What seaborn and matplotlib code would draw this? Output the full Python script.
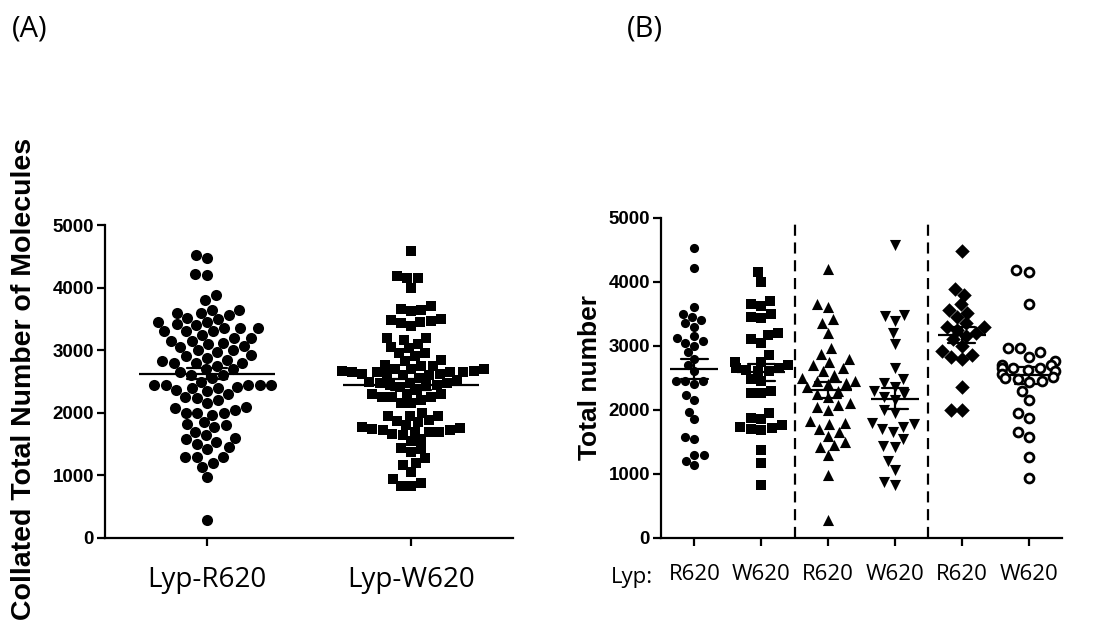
import pandas as pd
import seaborn as sns
import matplotlib.pyplot as plt

# values, one list per column
r620_circles = [4520, 4210, 3600, 3500, 3450, 3400, 3350, 3300, 3150, 3120, 3070,
                3050, 3000, 2900, 2800, 2700, 2600, 2450, 2450, 2450, 2400, 2240,
                2160, 1970, 1850, 1580, 1540, 1300, 1300, 1200, 1140]
w620_squares = [4150, 4000, 3700, 3650, 3620, 3500, 3450, 3430, 3200, 3170, 3100,
                3050, 2850, 2750, 2750, 2700, 2650, 2650, 2620, 2600, 2600, 2480,
                2450, 2300, 2260, 2260, 1950, 1880, 1850, 1760, 1730, 1720, 1700,
                1690, 1380, 1170, 830]
r620_triangles = [4200, 3650, 3600, 3420, 3350, 3200, 2970, 2880, 2800, 2750, 2700,
                  2650, 2600, 2550, 2500, 2450, 2450, 2420, 2400, 2350, 2300, 2250,
                  2200, 2100, 2080, 2050, 2000, 1820, 1800, 1780, 1700, 1650, 1600,
                  1500, 1450, 1420, 1300, 980, 280]
w620_down = [4580, 3480, 3460, 3380, 3200, 3030, 2660, 2480, 2420, 2360, 2300, 2250,
             2200, 2150, 2000, 1950, 1800, 1780, 1740, 1700, 1650, 1550, 1430, 1420,
             1200, 1060, 880, 830]
r620_diamonds = [4480, 3880, 3800, 3650, 3560, 3520, 3450, 3350, 3300, 3300, 3250,
                 3200, 3150, 3100, 3000, 2920, 2850, 2830, 2800, 2360, 2000, 2000]
w620_open = [4180, 4160, 3660, 2960, 2960, 2900, 2830, 2760, 2700, 2700, 2660, 2650,
             2650, 2620, 2600, 2560, 2520, 2500, 2480, 2450, 2440, 2300, 2150, 1950,
             1870, 1660, 1580, 1270, 940]

b_groups = ["R620 a", "W620 a", "R620 b", "W620 b", "R620 c", "W620 c"]
b_labels = ["R620", "W620", "R620", "W620", "R620", "W620"]
a_groups = ["Lyp-R620", "Lyp-W620"]
y_ticks = [0, 1000, 2000, 3000, 4000, 5000]
separators = [1.5, 3.5]

# panel A is the collated data of panel B
a_r620 = r620_circles + r620_triangles + r620_diamonds
a_w620 = w620_squares + w620_down + w620_open

df_a = pd.DataFrame({"group": [a_groups[0]] * len(a_r620) + [a_groups[1]] * len(a_w620),
                     "value": a_r620 + a_w620})
b_values = [r620_circles, w620_squares, r620_triangles, w620_down, r620_diamonds, w620_open]
df_b = pd.concat([pd.DataFrame({"group": g, "value": v}) for g, v in zip(b_groups, b_values)])

sns.set_theme(style="ticks")
plt.rcParams["font.family"] = ["Liberation Sans", "DejaVu Sans"]
plt.rcParams["axes.linewidth"] = 1.6
for key in ["text.color", "axes.labelcolor", "axes.edgecolor", "xtick.color", "ytick.color"]:
    plt.rcParams[key] = "black"

fig = plt.figure(figsize=(11.01, 6.37), dpi=100)
ax_a = fig.add_axes([105 / 1101, 99 / 637, 408 / 1101, 313 / 637])
ax_b = fig.add_axes([661 / 1101, 99 / 637, 401 / 1101, 320.3 / 637])

# ---- panel A
sns.swarmplot(data=df_a[df_a.group == a_groups[0]], x="group", y="value", order=a_groups,
              color="black", marker="o", size=8.0, linewidth=0, ax=ax_a)
sns.swarmplot(data=df_a[df_a.group == a_groups[1]], x="group", y="value", order=a_groups,
              color="black", marker="s", size=7.2, linewidth=0, ax=ax_a)
sns.pointplot(data=df_a, x="group", y="value", order=a_groups, errorbar="se",
              capsize=0.2, color="black", marker="_", markersize=98,
              markeredgewidth=1.6, linestyle="none", err_kws={"linewidth": 1.6}, ax=ax_a)

# ---- panel B
styles = [dict(marker="o", size=6.6, color="black", linewidth=0),
          dict(marker="s", size=7.2, color="black", linewidth=0),
          dict(marker="^", size=8.0, color="black", linewidth=0),
          dict(marker="v", size=8.0, color="black", linewidth=0),
          dict(marker="D", size=7.4, color="black", linewidth=0),
          dict(marker="o", size=6.4, color="white", edgecolor="black", linewidth=2.0)]
for g, st in zip(b_groups, styles):
    sns.swarmplot(data=df_b[df_b.group == g], x="group", y="value", order=b_groups, ax=ax_b, **st)
sns.pointplot(data=df_b, x="group", y="value", order=b_groups, errorbar="se",
              capsize=0.4, color="black", marker="_", markersize=34,
              markeredgewidth=1.6, linestyle="none", err_kws={"linewidth": 1.6}, ax=ax_b)
ax_b.vlines(separators, 0, 4920, colors="black", linewidth=1.6, linestyles=(0, (5, 3)))

for ax in (ax_a, ax_b):
    sns.despine(ax=ax)
    ax.set_ylim(0, 5000)
    ax.set_yticks(y_ticks)
    ax.tick_params(axis="y", length=6, width=1.6, labelsize=13.5, pad=2, colors="black")
    for lab in ax.get_yticklabels():
        lab.set_fontweight("bold")
    ax.set_xlabel("")

ax_a.set_xlim(-0.5, 1.5)
ax_a.set_xticks(range(len(a_groups)))
ax_a.set_xticklabels(a_groups, fontfamily="Open Sans", fontsize=20)
ax_a.tick_params(axis="x", length=6, width=1.6, pad=14, colors="black")
ax_a.set_ylabel("Collated Total Number of Molecules", fontsize=20.5, fontweight="bold")
ax_a.yaxis.set_label_coords(-68 / 408, 0.508)

ax_b.set_xlim(-0.5, 5.5)
ax_b.set_xticks(range(len(b_groups)))
ax_b.set_xticklabels(b_labels, fontfamily="Open Sans", fontsize=16)
ax_b.tick_params(axis="x", length=6, width=1.6, pad=13, colors="black")
ax_b.set_ylabel("Total number", fontsize=19, fontweight="bold")
ax_b.yaxis.set_label_coords(-59 / 401, 0.5)
ax_b.text(-0.93, -0.122, "Lyp:", transform=ax_b.get_xaxis_transform(),
          fontfamily="Open Sans", fontsize=16, ha="center", va="center")

fig.text(12 / 1101, 1 - 29 / 637, "(A)", fontfamily="Open Sans", fontsize=21, va="center")
fig.text(627 / 1101, 1 - 29 / 637, "(B)", fontfamily="Open Sans", fontsize=21, va="center")

plt.savefig("out.png", dpi=100)
